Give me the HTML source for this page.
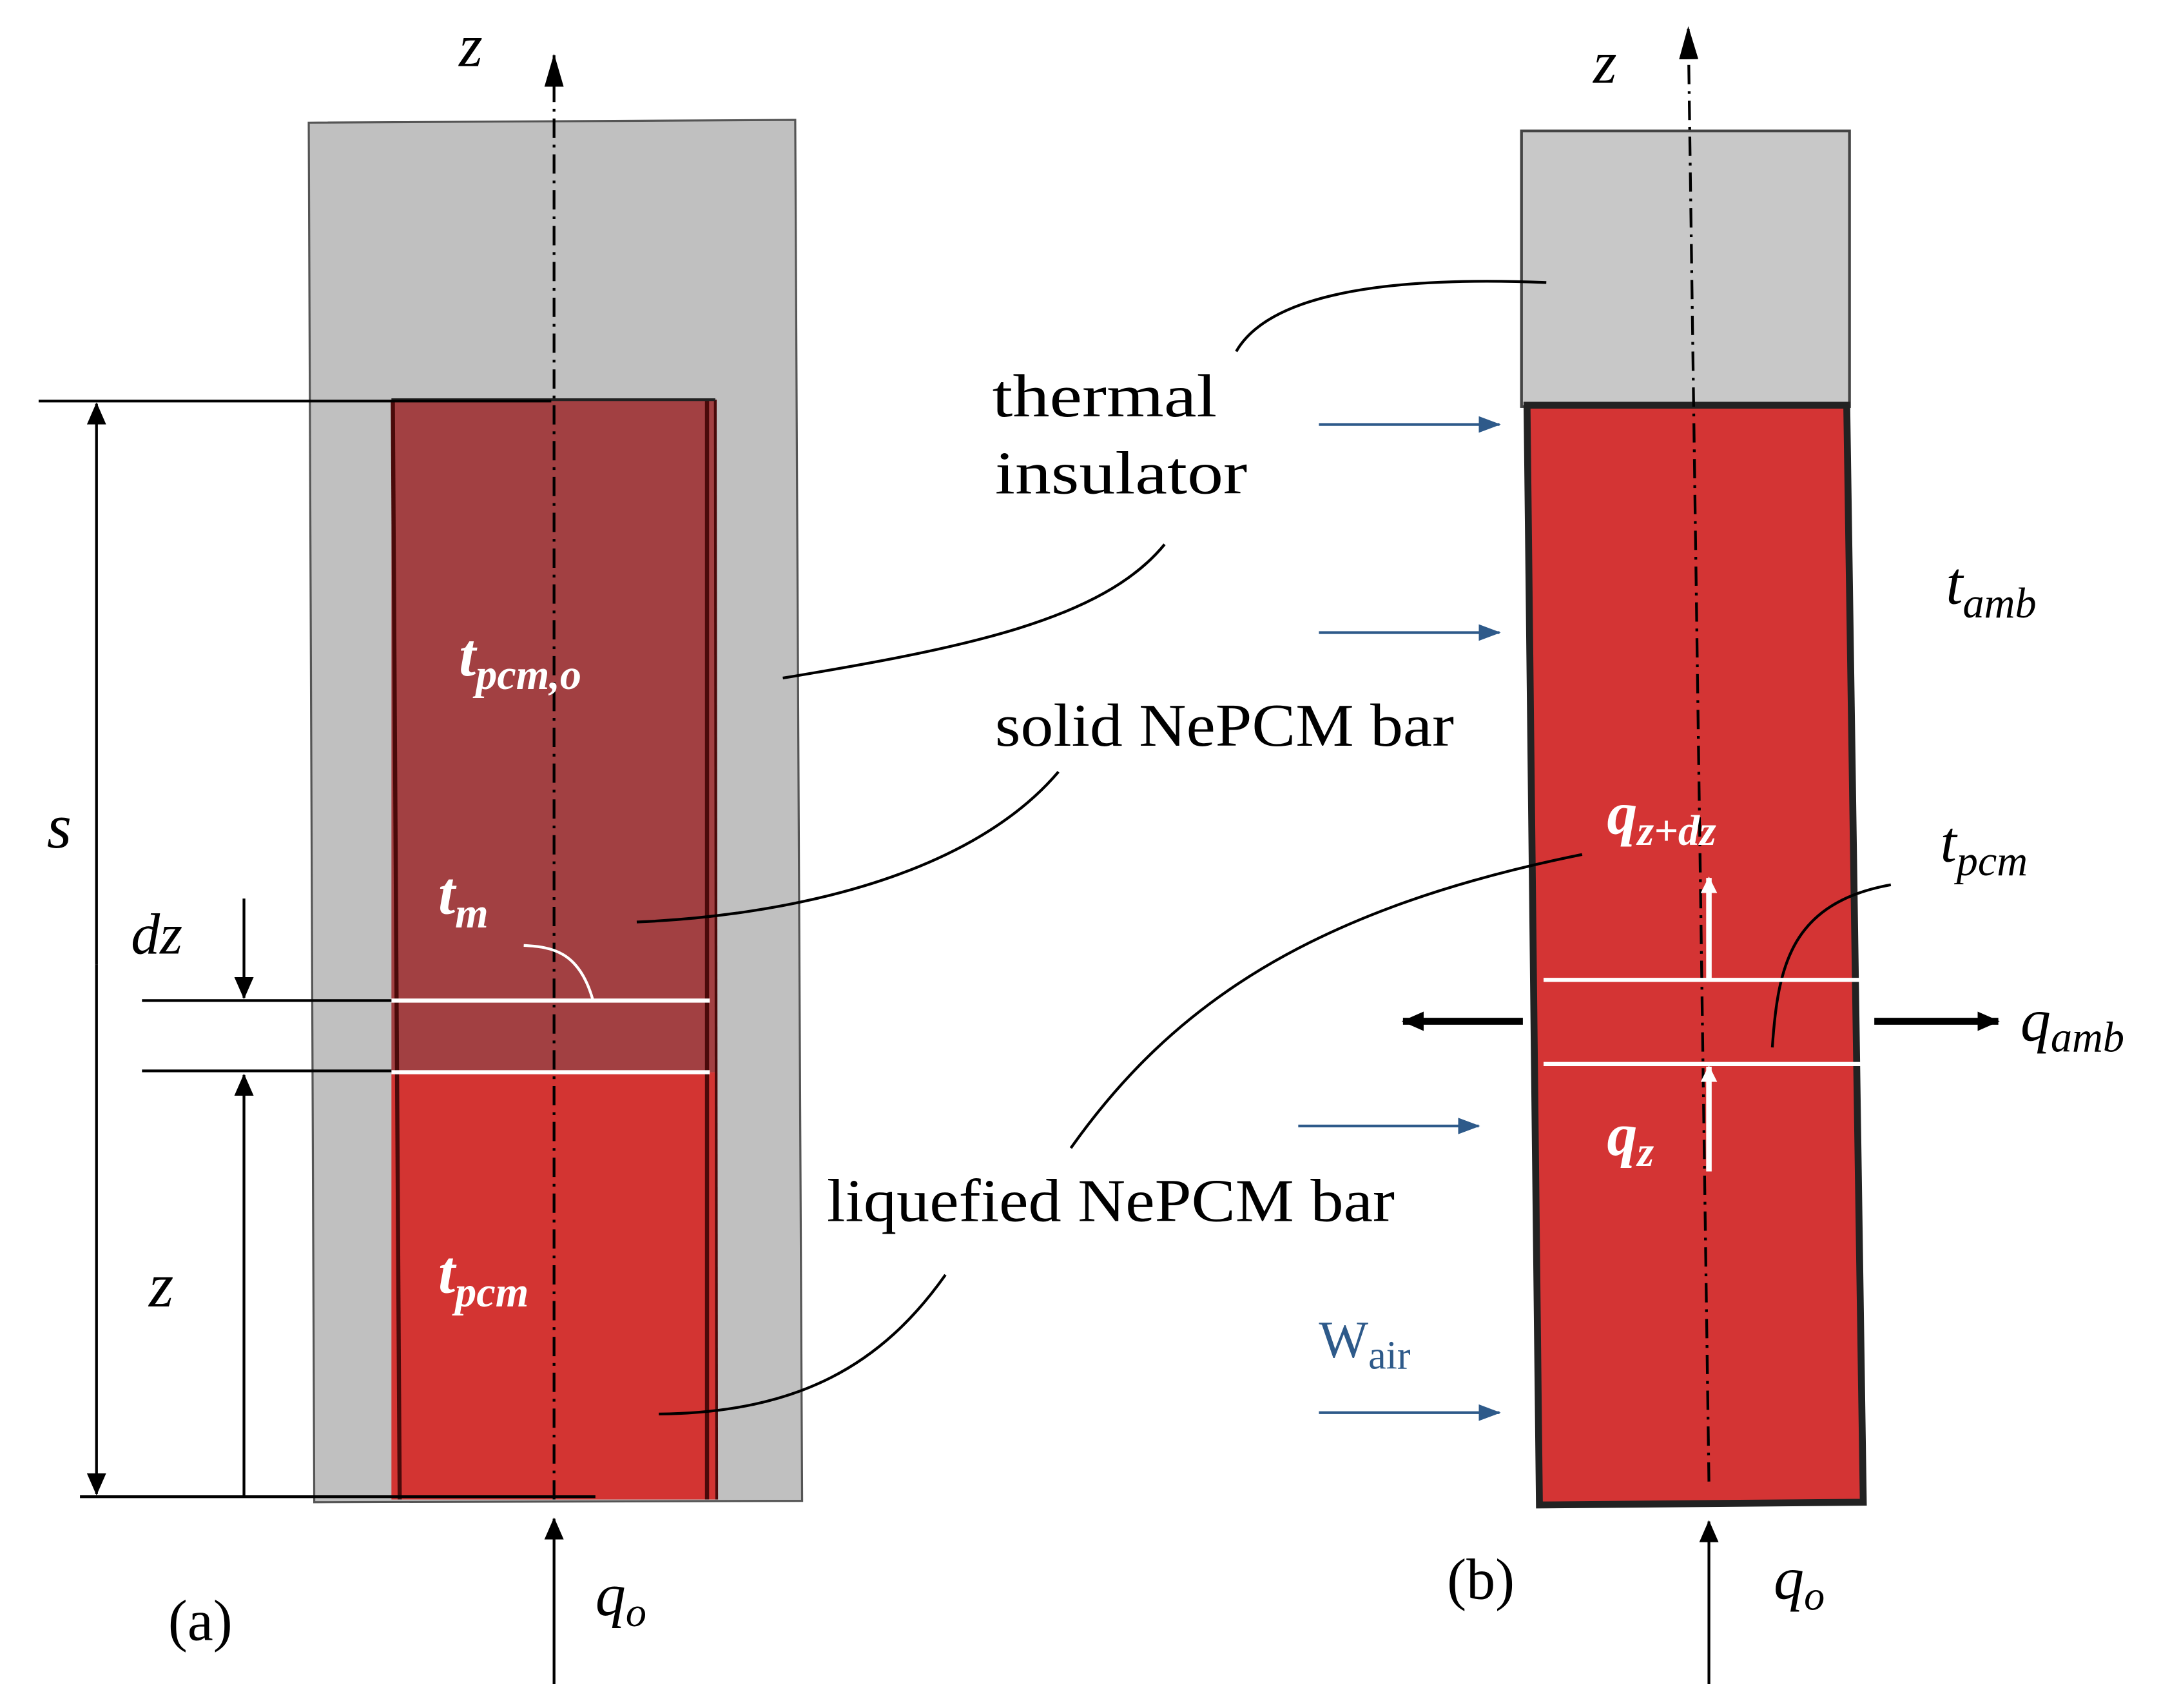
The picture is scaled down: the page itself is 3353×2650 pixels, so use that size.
<!DOCTYPE html>
<html><head><meta charset="utf-8"><style>
html,body{margin:0;padding:0;background:#fff;}
svg{display:block;}
text{font-family:"Liberation Serif",serif;}
.it{font-style:italic;}
</style></head><body>
<svg width="3353" height="2650" viewBox="0 0 1568 1239.3" xmlns="http://www.w3.org/2000/svg">
<defs>
<marker id="ab" markerWidth="24" markerHeight="14" refX="23" refY="7" orient="auto" markerUnits="userSpaceOnUse" viewBox="0 0 24 14"><path d="M0,0 L24,7 L0,14 z" fill="#000"/></marker>
<marker id="abig" markerWidth="16" markerHeight="14" refX="15" refY="7" orient="auto" markerUnits="userSpaceOnUse"><path d="M0,0 L16,7 L0,14 z" fill="#000"/></marker>
<marker id="aw" markerWidth="12" markerHeight="14" refX="11" refY="7" orient="auto" markerUnits="userSpaceOnUse"><path d="M0,1 L12,7 L0,13 z" fill="#fff"/></marker>
<marker id="abl" markerWidth="16" markerHeight="12" refX="15" refY="6" orient="auto" markerUnits="userSpaceOnUse"><path d="M0,0 L16,6 L0,12 z" fill="#2e5a8a"/></marker>
</defs>

<!-- Panel (a) -->
<polygon points="224,89 577,87 582,1089 228,1090" fill="#c0c0c0" stroke="#555" stroke-width="1.5"/>
<rect x="284" y="290" width="235" height="488" fill="#a24042"/>
<rect x="284" y="778" width="235" height="310" fill="#d33432"/>
<line x1="285" y1="290" x2="290" y2="1088" stroke="#4a0a0a" stroke-width="3"/>
<line x1="513" y1="290" x2="513" y2="1088" stroke="#4a0a0a" stroke-width="3"/>
<line x1="519" y1="290" x2="520" y2="1088" stroke="#4a0a0a" stroke-width="2"/>
<line x1="284" y1="290" x2="519" y2="290" stroke="#222" stroke-width="2"/>
<line x1="284" y1="726" x2="515" y2="726" stroke="#fff" stroke-width="3"/>
<line x1="284" y1="778" x2="515" y2="778" stroke="#fff" stroke-width="3"/>
<line x1="402" y1="1088" x2="402" y2="40" stroke="#000" stroke-width="2" stroke-dasharray="14,5,2,5" marker-end="url(#ab)"/>
<text x="333" y="48" class="it" font-size="44">z</text>

<line x1="28" y1="291" x2="400" y2="291" stroke="#000" stroke-width="2"/>
<line x1="70" y1="700" x2="70" y2="293" stroke="#000" stroke-width="2" marker-end="url(#abig)"/>
<line x1="70" y1="700" x2="70" y2="1084" stroke="#000" stroke-width="2" marker-end="url(#abig)"/>
<text x="34" y="615" class="it" font-size="46">s</text>
<line x1="103" y1="726" x2="284" y2="726" stroke="#000" stroke-width="2"/>
<line x1="103" y1="777" x2="284" y2="777" stroke="#000" stroke-width="2"/>
<line x1="177" y1="652" x2="177" y2="724" stroke="#000" stroke-width="2" marker-end="url(#abig)"/>
<text x="95" y="692" class="it" font-size="42">dz</text>
<line x1="177" y1="1086" x2="177" y2="780" stroke="#000" stroke-width="2" marker-end="url(#abig)"/>
<text x="108" y="948" class="it" font-size="46">z</text>
<line x1="58" y1="1086" x2="432" y2="1086" stroke="#000" stroke-width="2"/>
<line x1="402" y1="1222" x2="402" y2="1102" stroke="#000" stroke-width="2" marker-end="url(#abig)"/>
<text x="432" y="1172" class="it" font-size="44">q<tspan font-size="30" dy="8">o</tspan></text>
<text x="122" y="1190" font-size="42">(a)</text>

<text x="333" y="490" class="it" font-size="44" font-weight="bold" fill="#fff">t<tspan font-size="31" dy="10">pcm,o</tspan></text>
<text x="318" y="663" class="it" font-size="44" font-weight="bold" fill="#fff">t<tspan font-size="31" dy="10">m</tspan></text>
<text x="318" y="938" class="it" font-size="44" font-weight="bold" fill="#fff">t<tspan font-size="31" dy="10">pcm</tspan></text>
<path d="M380,686 C400,687 420,690 430,725" fill="none" stroke="#fff" stroke-width="2"/>

<path d="M568,492 C700,470 800,450 845,395" fill="none" stroke="#000" stroke-width="2"/>
<path d="M462,669 C560,665 700,640 768,560" fill="none" stroke="#000" stroke-width="2"/>
<path d="M478,1026 C580,1025 640,990 686,925" fill="none" stroke="#000" stroke-width="2"/>

<text x="720" y="302" font-size="44" textLength="163" lengthAdjust="spacingAndGlyphs">thermal</text>
<text x="722" y="358" font-size="44" textLength="183" lengthAdjust="spacingAndGlyphs">insulator</text>
<text x="722" y="541" font-size="44" textLength="333" lengthAdjust="spacingAndGlyphs">solid NePCM bar</text>
<text x="600" y="886" font-size="44" textLength="412" lengthAdjust="spacingAndGlyphs">liquefied NePCM bar</text>

<!-- Panel (b) -->
<rect x="1104" y="95" width="238" height="200" fill="#c8c8c8" stroke="#444" stroke-width="2"/>
<polygon points="1108,294 1340,294 1352,1090 1117,1092" fill="#d43434" stroke="#222" stroke-width="5"/>
<line x1="1240" y1="1075" x2="1225" y2="20" stroke="#000" stroke-width="2" stroke-dasharray="14,5,2,5" marker-end="url(#ab)"/>
<text x="1156" y="60" class="it" font-size="44">z</text>
<path d="M1122,205 C1000,200 920,215 897,255" fill="none" stroke="#000" stroke-width="2"/>

<line x1="957" y1="308" x2="1088" y2="308" stroke="#2e5a8a" stroke-width="2" marker-end="url(#abl)"/>
<line x1="957" y1="459" x2="1088" y2="459" stroke="#2e5a8a" stroke-width="2" marker-end="url(#abl)"/>
<line x1="942" y1="817" x2="1073" y2="817" stroke="#2e5a8a" stroke-width="2" marker-end="url(#abl)"/>
<line x1="957" y1="1025" x2="1088" y2="1025" stroke="#2e5a8a" stroke-width="2" marker-end="url(#abl)"/>
<text x="957" y="985" font-size="38" fill="#2e5a8a">W<tspan font-size="29" dy="8">air</tspan></text>

<text x="1412" y="438" class="it" font-size="44">t<tspan font-size="31" dy="10">amb</tspan></text>
<text x="1408" y="625" class="it" font-size="42">t<tspan font-size="31" dy="10">pcm</tspan></text>
<path d="M1286,760 C1290,700 1300,655 1372,642" fill="none" stroke="#000" stroke-width="2"/>

<line x1="1120" y1="711" x2="1350" y2="711" stroke="#fff" stroke-width="3"/>
<line x1="1120" y1="772" x2="1350" y2="772" stroke="#fff" stroke-width="3"/>
<line x1="1240" y1="711" x2="1240" y2="637" stroke="#fff" stroke-width="4" marker-end="url(#aw)"/>
<line x1="1240" y1="850" x2="1240" y2="774" stroke="#fff" stroke-width="4" marker-end="url(#aw)"/>
<text x="1166" y="605" class="it" font-size="44" font-weight="bold" fill="#fff">q<tspan font-size="31" dy="8">z+dz</tspan></text>
<text x="1166" y="838" class="it" font-size="44" font-weight="bold" fill="#fff">q<tspan font-size="31" dy="8">z</tspan></text>

<line x1="1105" y1="741" x2="1018" y2="741" stroke="#000" stroke-width="5" marker-end="url(#abig)"/>
<line x1="1360" y1="741" x2="1450" y2="741" stroke="#000" stroke-width="5" marker-end="url(#abig)"/>
<text x="1466" y="755" class="it" font-size="44">q<tspan font-size="31" dy="8">amb</tspan></text>
<path d="M777,833 C850,730 950,660 1148,620" fill="none" stroke="#000" stroke-width="2"/>

<line x1="1240" y1="1222" x2="1240" y2="1104" stroke="#000" stroke-width="2" marker-end="url(#abig)"/>
<text x="1050" y="1160" font-size="42">(b)</text>
<text x="1287" y="1160" class="it" font-size="44">q<tspan font-size="30" dy="8">o</tspan></text>
</svg>
</body></html>
